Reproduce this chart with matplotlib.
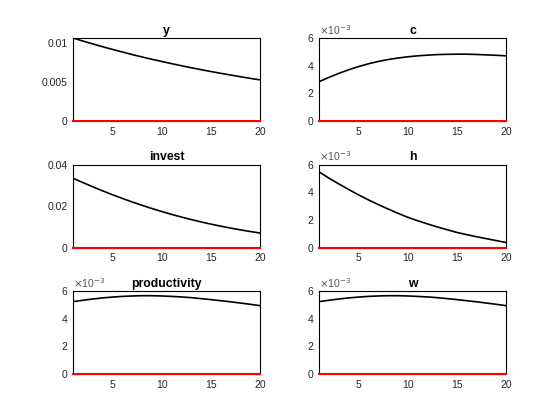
import matplotlib
matplotlib.use("Agg")
import matplotlib.pyplot as plt

plt.rcParams['font.family'] = ['Liberation Sans', 'DejaVu Sans']

periods = list(range(1, 21))

y_vals = [0.01070, 0.01031, 0.00994, 0.00958, 0.00923, 0.00890, 0.00857, 0.00826, 0.00796, 0.00768,
          0.00740, 0.00713, 0.00687, 0.00662, 0.00638, 0.00615, 0.00593, 0.00571, 0.00550, 0.00530]
c_vals = [0.00284, 0.00315, 0.00344, 0.00370, 0.00393, 0.00413, 0.00430, 0.00444, 0.00455, 0.00464,
          0.00471, 0.00476, 0.00480, 0.00482, 0.00483, 0.00483, 0.00481, 0.00478, 0.00475, 0.00471]
invest_vals = [0.03340, 0.03130, 0.02927, 0.02732, 0.02546, 0.02367, 0.02197, 0.02035, 0.01881, 0.01736,
               0.01599, 0.01470, 0.01348, 0.01234, 0.01128, 0.01029, 0.00936, 0.00851, 0.00771, 0.00698]
h_vals = [0.00547, 0.00502, 0.00460, 0.00420, 0.00381, 0.00345, 0.00311, 0.00279, 0.00248, 0.00219,
          0.00194, 0.00171, 0.00149, 0.00129, 0.00109, 0.00093, 0.00078, 0.00064, 0.00050, 0.00036]
productivity_vals = [0.00523, 0.00533, 0.00542, 0.00550, 0.00556, 0.00561, 0.00564, 0.00566, 0.00566, 0.00564,
                     0.00561, 0.00557, 0.00552, 0.00545, 0.00538, 0.00530, 0.00522, 0.00513, 0.00504, 0.00494]
w_vals = [0.00523, 0.00533, 0.00542, 0.00550, 0.00556, 0.00561, 0.00564, 0.00566, 0.00566, 0.00564,
          0.00561, 0.00557, 0.00552, 0.00545, 0.00538, 0.00530, 0.00522, 0.00513, 0.00504, 0.00494]

titles = ['y', 'c', 'invest', 'h', 'productivity', 'w']
series = [y_vals, c_vals, invest_vals, h_vals, productivity_vals, w_vals]
ylims = [(0, max(y_vals)), (0, 0.006), (0, 0.04), (0, 0.006), (0, 0.006), (0, 0.006)]
yticks = [[0, 0.005, 0.01], [0, 0.002, 0.004, 0.006], [0, 0.02, 0.04],
          [0, 0.002, 0.004, 0.006], [0, 0.002, 0.004, 0.006], [0, 0.002, 0.004, 0.006]]
ytlabels = [['0', '0.005', '0.01'], ['0', '2', '4', '6'], ['0', '0.02', '0.04'],
            ['0', '2', '4', '6'], ['0', '2', '4', '6'], ['0', '2', '4', '6']]
sci = [False, True, False, True, True, True]
xticks = [5, 10, 15, 20]

W, H = 560, 420
fig = plt.figure(figsize=(5.6, 4.2), dpi=100)
lefts = [73, 319]
width = 187
tops = [38, 164.5, 291]
height = 83
tick_color = '#262626'

for i, (t, s) in enumerate(zip(titles, series)):
    r, col = divmod(i, 2)
    ax = fig.add_axes([lefts[col] / W, 1 - (tops[r] + height) / H, width / W, height / H])
    ax.plot(periods, s, color='black', lw=1.2, zorder=3)
    ax.set_xlim(1, 20)
    ax.set_ylim(*ylims[i])
    ax.set_xticks(xticks)
    ax.set_yticks(yticks[i])
    ax.set_yticklabels(ytlabels[i])
    ax.tick_params(length=0, labelsize=7.5, colors=tick_color, pad=4)
    for sp in ax.spines.values():
        sp.set_color('black')
        sp.set_linewidth(0.8)
    ax.plot(periods, [0] * len(periods), color='#ff0000', lw=1.5, zorder=5, clip_on=False)
    ax.set_title(t, fontsize=8.8, fontweight='bold', pad=3)
    if sci[i]:
        ax.text(0.0, 1.015, r'$\times$10$^{-3}$', transform=ax.transAxes,
                fontsize=7.5, color='#555555', ha='left', va='bottom')

fig.savefig('out.png', dpi=100)
